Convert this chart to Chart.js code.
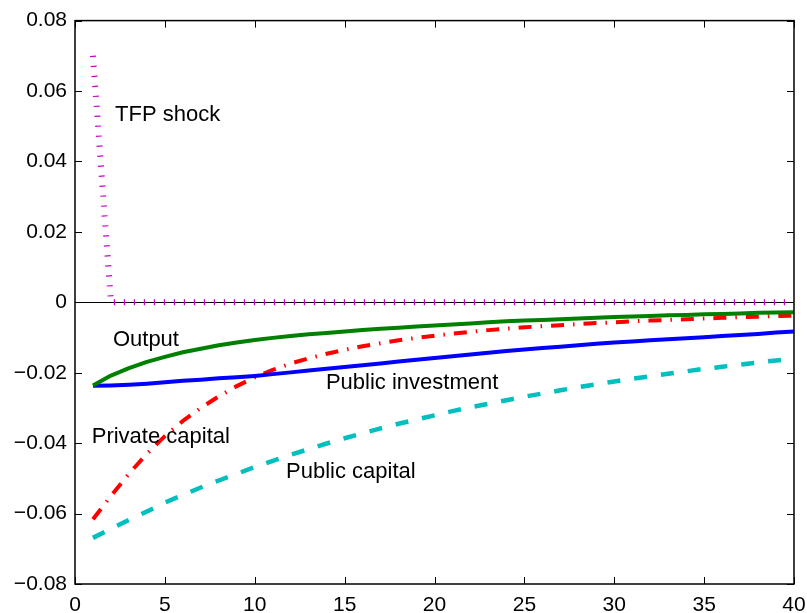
<!DOCTYPE html>
<html>
<head>
<meta charset="utf-8">
<script src="https://cdn.jsdelivr.net/npm/chart.js@4.4.1/dist/chart.umd.min.js"></script>
<style>
  html, body { margin: 0; padding: 0; background: #fff; }
  #wrap { width: 807px; height: 613px; }
</style>
</head>
<body>
<div id="wrap"><canvas id="c" width="807" height="613"></canvas></div>
<script>
// Impulse responses, periods 1..40
const periods = [1, 2, 3, 4, 5, 6, 7, 8, 9, 10, 11, 12, 13, 14, 15, 16, 17, 18, 19, 20,
                 21, 22, 23, 24, 25, 26, 27, 28, 29, 30, 31, 32, 33, 34, 35, 36, 37, 38, 39, 40];

const tfpShock = [0.07, 0, 0, 0, 0, 0, 0, 0, 0, 0, 0, 0, 0, 0, 0, 0, 0, 0, 0, 0,
                  0, 0, 0, 0, 0, 0, 0, 0, 0, 0, 0, 0, 0, 0, 0, 0, 0, 0, 0, 0];

const output = [-0.0236, -0.0208, -0.0187, -0.0169, -0.0155, -0.0142, -0.0132, -0.0122, -0.0114, -0.0107,
                -0.0101, -0.0096, -0.0091, -0.0087, -0.0083, -0.0079, -0.0075, -0.0072, -0.0069, -0.0066,
                -0.0063, -0.0060, -0.0057, -0.0054, -0.0052, -0.0050, -0.0048, -0.0046, -0.0044, -0.0042,
                -0.0040, -0.0039, -0.0037, -0.0036, -0.0034, -0.0033, -0.0032, -0.0030, -0.0029, -0.0028];

const publicInvestment = [-0.0237, -0.0236, -0.0234, -0.0231, -0.0227, -0.0223, -0.0220, -0.0216, -0.0213, -0.0209,
                          -0.0204, -0.0199, -0.0194, -0.0189, -0.0184, -0.0179, -0.0174, -0.0168, -0.0163, -0.0158,
                          -0.0153, -0.0148, -0.0143, -0.0138, -0.0134, -0.0130, -0.0126, -0.0122, -0.0118, -0.0114,
                          -0.0111, -0.0108, -0.0105, -0.0102, -0.0099, -0.0096, -0.0093, -0.0090, -0.0086, -0.0083];

const privateCapital = [-0.0616, -0.0550, -0.0487, -0.0430, -0.0380, -0.0337, -0.0300, -0.0267, -0.0238, -0.0213,
                        -0.0192, -0.0174, -0.0159, -0.0146, -0.0135, -0.0125, -0.0116, -0.0108, -0.0101, -0.0095,
                        -0.0089, -0.0084, -0.0079, -0.0075, -0.0071, -0.0068, -0.0065, -0.0062, -0.0059, -0.0057,
                        -0.0054, -0.0052, -0.0050, -0.0048, -0.0046, -0.0044, -0.0042, -0.0041, -0.0039, -0.0038];

const publicCapital = [-0.0669, -0.0643, -0.0618, -0.0594, -0.0569, -0.0547, -0.0526, -0.0506, -0.0487, -0.0468,
                       -0.0450, -0.0433, -0.0417, -0.0401, -0.0386, -0.0372, -0.0358, -0.0345, -0.0333, -0.0321,
                       -0.0309, -0.0298, -0.0288, -0.0278, -0.0268, -0.0259, -0.0250, -0.0241, -0.0233, -0.0225,
                       -0.0217, -0.0210, -0.0203, -0.0196, -0.0189, -0.0183, -0.0177, -0.0171, -0.0165, -0.0160];

const xTicks = [0, 5, 10, 15, 20, 25, 30, 35, 40];
const xTickLabels = ['0', '5', '10', '15', '20', '25', '30', '35', '40'];
const yTicks = [-0.08, -0.06, -0.04, -0.02, 0, 0.02, 0.04, 0.06, 0.08];
const yTickLabels = ['\u22120.08', '\u22120.06', '\u22120.04', '\u22120.02', '0', '0.02', '0.04', '0.06', '0.08'];

// Curve captions, placed in data coordinates (left edge, baseline)
const captions = [
  { text: 'TFP shock',         x: 2.23,  y: 0.0516 },
  { text: 'Output',            x: 2.11,  y: -0.0124 },
  { text: 'Public investment', x: 13.96, y: -0.0245 },
  { text: 'Private capital',   x: 0.93,  y: -0.0400 },
  { text: 'Public capital',    x: 11.74, y: -0.0498 }
];

const FONT = '"Liberation Sans", Arial, Helvetica, sans-serif';

const toXY = (ys) => periods.map((p, i) => ({ x: p, y: ys[i] }));

// Box frame with inward ticks on all sides, a zero reference line and the captions
const framePlugin = {
  id: 'framePlugin',
  beforeDatasetsDraw(chart) {
    const { ctx, chartArea: a, scales } = chart;
    const y0 = Math.round(scales.y.getPixelForValue(0)) + 0.5;
    ctx.save();
    ctx.strokeStyle = '#000';
    ctx.lineWidth = 1;
    ctx.beginPath();
    ctx.moveTo(a.left, y0);
    ctx.lineTo(a.right, y0);
    ctx.stroke();
    ctx.restore();
  },
  afterDatasetsDraw(chart) {
    const { ctx, chartArea: a, scales } = chart;
    const tl = 7;
    ctx.save();
    ctx.strokeStyle = '#000';
    ctx.lineWidth = 1;
    ctx.beginPath();
    scales.x.ticks.forEach(t => {
      const px = Math.round(scales.x.getPixelForValue(t.value)) + 0.5;
      ctx.moveTo(px, a.bottom); ctx.lineTo(px, a.bottom - tl);
      ctx.moveTo(px, a.top); ctx.lineTo(px, a.top + tl);
    });
    scales.y.ticks.forEach(t => {
      const py = Math.round(scales.y.getPixelForValue(t.value)) + 0.5;
      ctx.moveTo(a.left, py); ctx.lineTo(a.left + tl, py);
      ctx.moveTo(a.right, py); ctx.lineTo(a.right - tl, py);
    });
    ctx.stroke();
    ctx.lineWidth = 1.5;
    ctx.strokeRect(a.left, a.top, a.right - a.left, a.bottom - a.top);

    ctx.fillStyle = '#000';
    ctx.font = '22px ' + FONT;
    ctx.textAlign = 'left';
    ctx.textBaseline = 'alphabetic';
    captions.forEach(c => {
      ctx.fillText(c.text, scales.x.getPixelForValue(c.x), scales.y.getPixelForValue(c.y));
    });
    ctx.restore();
  }
};

const lineBase = { pointRadius: 0, tension: 0, fill: false, borderCapStyle: 'butt', borderJoinStyle: 'round' };

new Chart(document.getElementById('c'), {
  type: 'line',
  data: {
    datasets: [
      Object.assign({ label: 'TFP shock', data: toXY(tfpShock), borderColor: '#cc00cc',
        borderWidth: 6, borderDash: [1.2, 8.8], order: 0 }, lineBase),
      Object.assign({ label: 'Output', data: toXY(output), borderColor: '#008000',
        borderWidth: 4, order: 1 }, lineBase),
      Object.assign({ label: 'Public investment', data: toXY(publicInvestment), borderColor: '#0000ff',
        borderWidth: 4, order: 2 }, lineBase),
      Object.assign({ label: 'Private capital', data: toXY(privateCapital), borderColor: '#ff0000',
        borderWidth: 4, borderDash: [13, 9, 1.5, 9], order: 3 }, lineBase),
      Object.assign({ label: 'Public capital', data: toXY(publicCapital), borderColor: '#00bfbf',
        borderWidth: 4.5, borderDash: [13, 14], order: 4 }, lineBase)
    ]
  },
  options: {
    responsive: false,
    animation: false,
    devicePixelRatio: 1,
    layout: { padding: { top: 17, right: 0, left: 0, bottom: 0 } },
    plugins: { legend: { display: false }, tooltip: { enabled: false } },
    scales: {
      x: {
        type: 'linear', min: 0, max: 40,
        afterBuildTicks: s => { s.ticks = xTicks.map(v => ({ value: v })); },
        afterFit: s => { s.height = 29; s.paddingLeft = 0; s.paddingRight = 13; },
        grid: { display: false, drawTicks: false },
        border: { display: false },
        ticks: {
          autoSkip: false, maxRotation: 0, padding: 9, color: '#000',
          font: { family: FONT, size: 21 },
          callback: (v, i) => xTickLabels[i]
        }
      },
      y: {
        type: 'linear', min: -0.08, max: 0.08,
        afterBuildTicks: s => { s.ticks = yTicks.map(v => ({ value: v })); },
        afterFit: s => { s.width = 75; },
        grid: { display: false, drawTicks: false },
        border: { display: false },
        ticks: {
          autoSkip: false, padding: 8, color: '#000',
          font: { family: FONT, size: 21 },
          callback: (v, i) => yTickLabels[i]
        }
      }
    }
  },
  plugins: [framePlugin]
});
</script>
</body>
</html>
